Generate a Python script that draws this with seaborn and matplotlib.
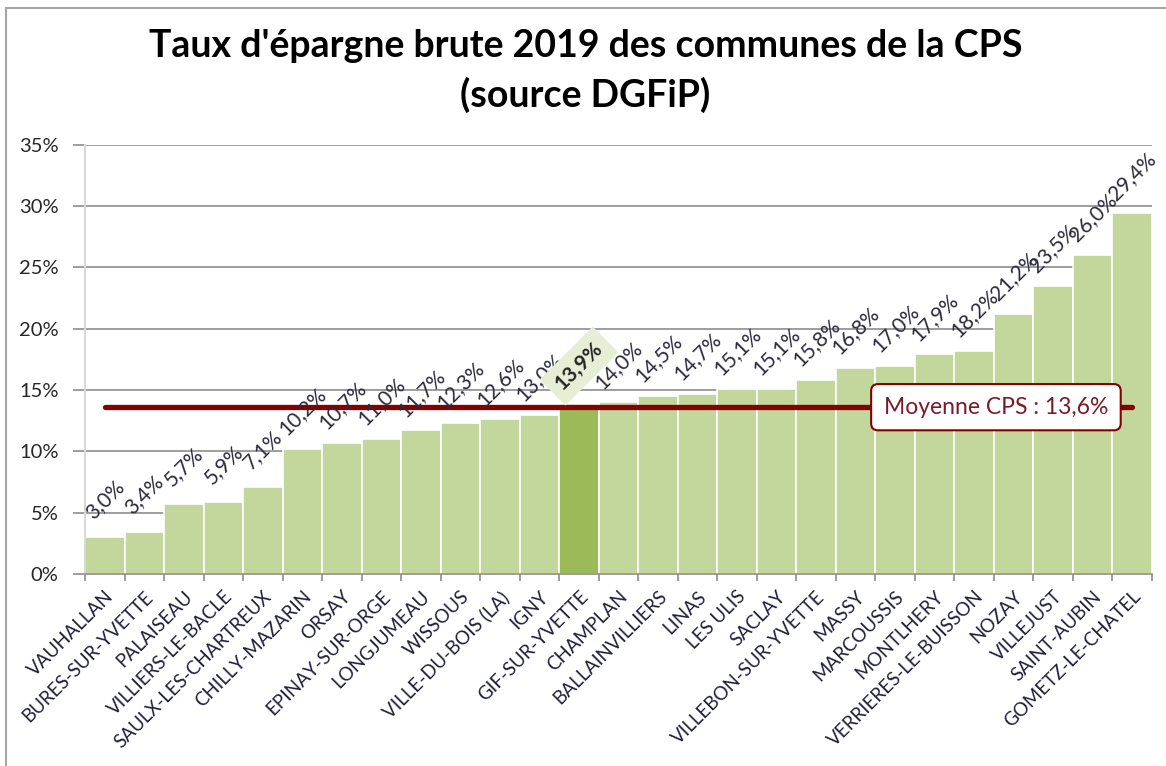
import matplotlib
matplotlib.use("Agg")
import matplotlib.pyplot as plt
from matplotlib.patches import Rectangle
from matplotlib.ticker import FuncFormatter, FixedLocator
import pandas as pd
import seaborn as sns

# Données : taux d'épargne brute 2019 (%)
communes = [
    "VAUHALLAN", "BURES-SUR-YVETTE", "PALAISEAU", "VILLIERS-LE-BACLE",
    "SAULX-LES-CHARTREUX", "CHILLY-MAZARIN", "ORSAY", "EPINAY-SUR-ORGE",
    "LONGJUMEAU", "WISSOUS", "VILLE-DU-BOIS (LA)", "IGNY", "GIF-SUR-YVETTE",
    "CHAMPLAN", "BALLAINVILLIERS", "LINAS", "LES ULIS", "SACLAY",
    "VILLEBON-SUR-YVETTE", "MASSY", "MARCOUSSIS", "MONTLHERY",
    "VERRIERES-LE-BUISSON", "NOZAY", "VILLEJUST", "SAINT-AUBIN",
    "GOMETZ-LE-CHATEL",
]
taux = [3.0, 3.4, 5.7, 5.9, 7.1, 10.2, 10.7, 11.0, 11.7, 12.3, 12.6, 13.0,
        13.9, 14.0, 14.5, 14.7, 15.1, 15.1, 15.8, 16.8, 17.0, 17.9, 18.2,
        21.2, 23.5, 26.0, 29.4]
commune_mise_en_avant = "GIF-SUR-YVETTE"
moyenne_cps = 13.6

df = pd.DataFrame({"commune": communes, "taux": taux})
df["moyenne"] = moyenne_cps

vert_clair = "#c3d69b"
vert_fonce = "#9bbb59"
rouge = "#850000"
palette = {c: (vert_fonce if c == commune_mise_en_avant else vert_clair) for c in communes}

sns.set_theme(style="white")
plt.rcParams["font.family"] = ["Lato", "DejaVu Sans"]

fig = plt.figure(figsize=(11.66, 7.66), dpi=100)
ax = fig.add_axes([0.073, 0.2507, 0.915, 0.5603])

# cadre du graphique
fig.patches.append(Rectangle((6 / 1166, -0.1), 1.2, 1 - 8 / 766 + 0.1,
                             transform=fig.transFigure, fill=False,
                             edgecolor="#a6a6a6", linewidth=1.5))

sns.barplot(data=df, x="commune", y="taux", hue="commune", palette=palette,
            legend=False, width=1.0, edgecolor="white", linewidth=1.2,
            saturation=1, ax=ax, zorder=2)

# ligne de la moyenne
sns.lineplot(data=df, x="commune", y="moyenne", color=rouge, linewidth=3.8,
             ax=ax, zorder=4, sort=False)

# étiquettes de données
for i, (c, v) in enumerate(zip(communes, taux)):
    txt = f"{v:.1f}%".replace(".", ",")
    if c == commune_mise_en_avant:
        ax.annotate(txt, (i, v), xytext=(0, 27), textcoords="offset points",
                    rotation=45, ha="center", va="center", fontsize=15,
                    fontweight="bold", color="#262626", zorder=6,
                    bbox=dict(boxstyle="square,pad=0.4", fc="#e6eed5", ec="none"))
    else:
        ax.annotate(txt, (i, v), xytext=(0, 27), textcoords="offset points",
                    rotation=45, ha="center", va="center", fontsize=15,
                    color="#2b2b3b", zorder=6)

# étiquette de la moyenne
ax.annotate(f"Moyenne CPS : {moyenne_cps:.1f}%".replace(".", ","),
            (22.55, moyenne_cps), ha="center", va="center", fontsize=16.5,
            color="#7a1a2a", zorder=7,
            bbox=dict(boxstyle="round,pad=0.55,rounding_size=0.3", fc="white",
                      ec=rouge, lw=1.5))

ax.set_xlim(-0.5, len(communes) - 0.5)
ax.set_ylim(0, 35)
ax.set_yticks(range(0, 36, 5))
ax.yaxis.set_major_formatter(FuncFormatter(lambda y, _: f"{y:.0f}%"))
ax.yaxis.grid(True, color="#8c8c8c", linewidth=1.2, zorder=0)
ax.set_axisbelow(True)
ax.tick_params(axis="y", length=9, width=1.2, color="#8c8c8c", labelsize=14.5,
               labelcolor="#262626", pad=10, left=True)

ax.set_xticks(range(len(communes)))
ax.set_xticklabels(communes, rotation=45, ha="right", rotation_mode="anchor",
                   fontsize=13.5, color="#1f1f3a")
ax.tick_params(axis="x", which="major", length=0, pad=10)
ax.xaxis.set_minor_locator(FixedLocator([i - 0.5 for i in range(len(communes) + 1)]))
ax.tick_params(axis="x", which="minor", length=5, width=1.2, color="#8c8c8c",
               bottom=True)

for s in ["top", "right"]:
    ax.spines[s].set_visible(False)
ax.spines["left"].set_color("#d9d9d9")
ax.spines["left"].set_linewidth(1.5)
ax.spines["bottom"].set_color("#8c8c8c")
ax.spines["bottom"].set_linewidth(1.2)
ax.set_xlabel("")
ax.set_ylabel("")

fig.text(0.502, 0.907, "Taux d'épargne brute 2019 des communes de la CPS\n(source DGFiP)",
         ha="center", va="center", fontsize=27, fontweight="bold",
         color="black", linespacing=1.45)

fig.savefig("out.png", dpi=100)
